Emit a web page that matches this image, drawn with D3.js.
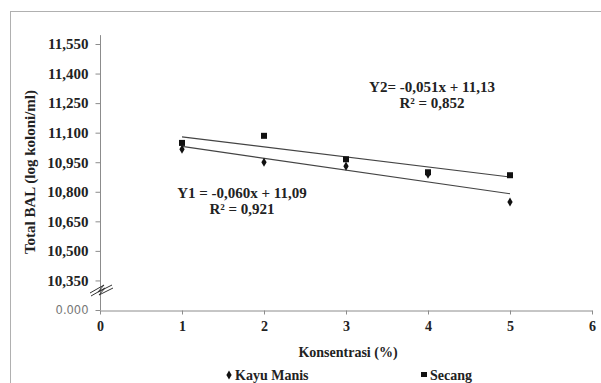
<!DOCTYPE html>
<html>
<head>
<meta charset="utf-8">
<script src="https://cdn.jsdelivr.net/npm/d3@7"></script>
<style>
  body { margin: 0; background: #fff; }
  svg text { font-family: "Liberation Serif", "Times New Roman", Times, serif; }
</style>
</head>
<body>
<div id="chart"></div>
<script>
// data
var konsentrasi = [1, 2, 3, 4, 5];
var kayuManis = [11.016, 10.950, 10.930, 10.889, 10.748];
var secang = [11.048, 11.084, 10.965, 10.899, 10.884];
var xTicks = [0, 1, 2, 3, 4, 5, 6];
var yTicks = [10.2, 10.35, 10.5, 10.65, 10.8, 10.95, 11.1, 11.25, 11.4, 11.55];
var yTickLabels = ["0.000", "10,350", "10,500", "10,650", "10,800", "10,950", "11,100", "11,250", "11,400", "11,550"];
var trend1 = { slope: -0.060, intercept: 11.09 };
var trend2 = { slope: -0.051, intercept: 11.13 };

var W = 601, H = 383;
var svg = d3.select("#chart").append("svg")
  .attr("width", W).attr("height", H);

// outer frame (only top/left visible)
svg.append("rect")
  .attr("x", 10.5).attr("y", 11.5)
  .attr("width", 620).attr("height", 400)
  .attr("fill", "none").attr("stroke", "#b0b0b0");

var x = d3.scaleLinear().domain([0, 6]).range([100, 592]);
var y = d3.scaleLinear().domain([10.2, 11.55]).range([310, 44]);

// x axis
var xAxis = svg.append("g")
  .attr("transform", "translate(0,310.5)")
  .call(d3.axisBottom(x).tickValues(xTicks).tickSize(4).tickSizeOuter(0).tickPadding(7)
    .tickFormat(d3.format("d")));
xAxis.attr("font-family", null);
xAxis.select(".domain").attr("stroke", "#8c8c8c");
xAxis.selectAll(".tick line").attr("stroke", "#8c8c8c");
xAxis.selectAll("text")
  .attr("font-size", 14).attr("font-weight", "bold").attr("fill", "#222");

// y axis
var yAxis = svg.append("g")
  .attr("transform", "translate(100.5,0)")
  .call(d3.axisLeft(y).tickValues(yTicks).tickSize(5).tickSizeOuter(0).tickPadding(7)
    .tickFormat(function (d, i) { return yTickLabels[i]; }));
yAxis.attr("font-family", null);
yAxis.select(".domain").attr("d", "M0," + y(11.595) + "V" + y(10.2)).attr("stroke", "#8c8c8c");
yAxis.selectAll(".tick line").attr("stroke", "#8c8c8c");
yAxis.selectAll("text")
  .attr("font-size", 15).attr("font-weight", "bold").attr("fill", "#222");
yAxis.selectAll("text").filter(function (d, i) { return i === 0; })
  .attr("font-weight", "normal").attr("fill", "#777").attr("font-size", 11.5)
  .style("font-family", "DejaVu Sans, sans-serif");

// axis break zigzag
svg.append("path")
  .attr("d", "M90,293 L104,285 L98,292 L112,285 M91,296 L105,288 L99,295 L113,288")
  .attr("fill", "none").attr("stroke", "#333").attr("stroke-width", 1);

// trend lines
function trendLine(t) {
  svg.append("line")
    .attr("x1", x(1)).attr("y1", y(t.intercept + t.slope * 1))
    .attr("x2", x(5)).attr("y2", y(t.intercept + t.slope * 5))
    .attr("stroke", "#444").attr("stroke-width", 1.2);
}
trendLine(trend1);
trendLine(trend2);

// points
var diamond = d3.symbol().type(d3.symbolDiamond).size(24);
svg.selectAll(".km").data(konsentrasi).enter().append("path")
  .attr("d", diamond)
  .attr("transform", function (d, i) { return "translate(" + x(d) + "," + y(kayuManis[i]) + ")"; })
  .attr("fill", "#111");
svg.selectAll(".sc").data(konsentrasi).enter().append("rect")
  .attr("x", function (d) { return x(d) - 3; })
  .attr("y", function (d, i) { return y(secang[i]) - 3; })
  .attr("width", 6).attr("height", 6)
  .attr("fill", "#111");

// equations
var eq = svg.append("g").attr("font-size", 15).attr("font-weight", "bold").attr("fill", "#222")
  .attr("text-anchor", "middle");
eq.append("text").attr("x", 432).attr("y", 92).text("Y2= -0,051x + 11,13");
eq.append("text").attr("x", 432).attr("y", 108).text("R² = 0,852");
eq.append("text").attr("x", 242).attr("y", 198).text("Y1 = -0,060x + 11,09");
eq.append("text").attr("x", 242).attr("y", 214).text("R² = 0,921");

// axis titles
svg.append("text")
  .attr("x", 348).attr("y", 357)
  .attr("text-anchor", "middle").attr("font-size", 14).attr("font-weight", "bold").attr("fill", "#222")
  .text("Konsentrasi (%)");
svg.append("text")
  .attr("transform", "translate(35,172) rotate(-90)")
  .attr("text-anchor", "middle").attr("font-size", 15).attr("font-weight", "bold").attr("fill", "#222")
  .text("Total BAL (log koloni/ml)");

// legend
var lg = svg.append("g").attr("font-size", 14).attr("font-weight", "bold").attr("fill", "#222");
lg.append("path").attr("d", diamond).attr("transform", "translate(229,375)").attr("fill", "#111");
lg.append("text").attr("x", 235).attr("y", 380).text("Kayu Manis");
lg.append("rect").attr("x", 421).attr("y", 372).attr("width", 6).attr("height", 5).attr("fill", "#111");
lg.append("text").attr("x", 430).attr("y", 380).text("Secang");
</script>
</body>
</html>
